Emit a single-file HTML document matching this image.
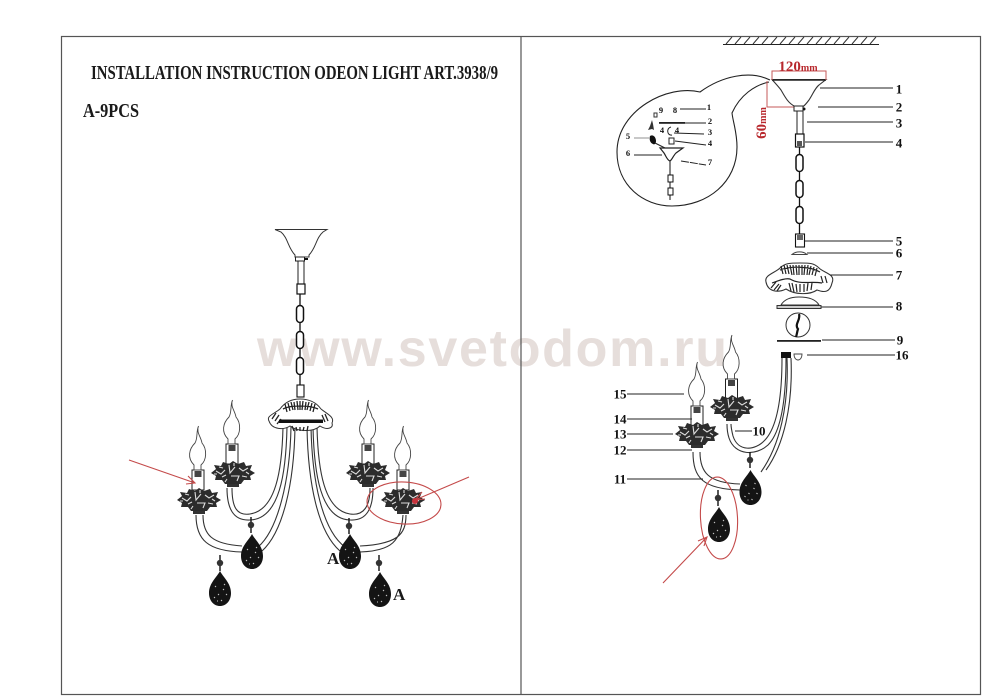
<!DOCTYPE html>
<html><head><meta charset="utf-8"><style>
html,body{margin:0;padding:0;background:#fff;width:991px;height:700px;overflow:hidden}
svg{display:block;filter:blur(.35px)}
.t{font-family:"Liberation Serif",serif;font-weight:bold;fill:#1a1a1a}
.n{font-family:"Liberation Serif",serif;font-weight:bold;fill:#111;font-size:13px;text-anchor:middle;dominant-baseline:central}
.s{font-family:"Liberation Serif",serif;font-weight:bold;fill:#111;font-size:8.5px;text-anchor:middle;dominant-baseline:central}
.l{stroke:#222;stroke-width:1;fill:none}
.a{stroke:#333;stroke-width:1.1;fill:none}
.r{stroke:#c44a4a;stroke-width:1.1;fill:none}
</style></head><body>
<svg width="991" height="700" viewBox="0 0 991 700" xmlns="http://www.w3.org/2000/svg">
<defs>
<g id="flower">
<path d="M-22,0 L-17,-4 L-19,-8 L-12,-7 L-10,-11 L-4,-9 L0,-12 L5,-9 L11,-11 L13,-7 L19,-8 L17,-3 L22,0 L17,3 L18,7 L11,7 L8,11 L-8,11 L-11,7 L-18,7 L-17,3 Z" fill="#2c2c2c"/>
<path d="M-17,-2 l5,3 l4,-4 M-11,4 l4,-2 M-4,-8 l1,8 l5,-6 M-2,3 l8,0 l-2,5 M6,-5 l4,3 l5,-3 M9,3 l5,1 M-14,-6 l4,1 M-6,6 l-2,3 M-19,1 l3,0 M13,-1 l3,2 M1,-10 l0,3" stroke="#ddd" stroke-width="1.1" fill="none"/>
<rect x="-6" y="11" width="12" height="3" fill="#333"/>
</g>
<g id="flame">
<path d="M0.5,-44 C-2,-38 3,-33 4,-27 C9,-21 9,-10 3,-5 L3,0 L-4,0 L-4,-5 C-11,-12 -9,-21 -3,-27 C0,-32 -2,-38 0.5,-44 Z" fill="#fff" stroke="#444" stroke-width="0.9"/>
</g>
<g id="socket">
<rect x="-6" y="0" width="12" height="20" fill="#fff" stroke="#222" stroke-width="1"/>
<rect x="-3.5" y="1" width="7" height="6" fill="#444"/>
</g>
<g id="drop">
<path d="M0,-17 C3,-11 11,-5 11,5 C11,13 6,18 0,18 C-6,18 -11,13 -11,5 C-11,-5 -3,-11 0,-17 Z" fill="#141414"/>
<path d="M-5,-2 l1,1 M4,-4 l1,1 M-2,6 l1,1 M6,6 l1,1 M-6,9 l1,1 M1,12 l1,1 M3,1 l1,1 M-3,13 l1,0" stroke="#ccc" stroke-width="1"/>
</g>
<g id="bead">
<path d="M0,-8 V-3 M0,3 V8" stroke="#111" stroke-width="1.4"/>
<circle cx="0" cy="0" r="3.2" fill="#333"/>
</g>
<g id="link"><rect x="-3.5" y="-8.5" width="7" height="17" rx="3.5" fill="#fff" stroke="#111" stroke-width="1.5"/></g>
</defs>

<rect width="991" height="700" fill="#fff"/>

<text x="257" y="366" font-family="'Liberation Sans',sans-serif" font-weight="bold" font-size="52" fill="#e6dedb" textLength="470" lengthAdjust="spacing">www.svetodom.ru</text>

<!-- frame -->
<rect x="61.5" y="36.5" width="919" height="658" fill="none" stroke="#555" stroke-width="1.2"/>
<line x1="521" y1="36" x2="521" y2="695" stroke="#555" stroke-width="1.2"/>

<!-- ceiling hatch -->
<line x1="723" y1="44.5" x2="879" y2="44.5" stroke="#222" stroke-width="1"/>
<path d="M726,44 l6,-7 M735,44 l6,-7 M744,44 l6,-7 M753,44 l6,-7 M762,44 l6,-7 M771,44 l6,-7 M780,44 l6,-7 M789,44 l6,-7 M798,44 l6,-7 M807,44 l6,-7 M816,44 l6,-7 M825,44 l6,-7 M834,44 l6,-7 M843,44 l6,-7 M852,44 l6,-7 M861,44 l6,-7 M870,44 l6,-7" stroke="#333" stroke-width="1"/>

<!-- title -->
<text class="t" x="91" y="79" font-size="20" textLength="407" lengthAdjust="spacingAndGlyphs">INSTALLATION INSTRUCTION ODEON LIGHT ART.3938/9</text>
<text class="t" x="83" y="117" font-size="20" textLength="56" lengthAdjust="spacingAndGlyphs">A-9PCS</text>

<!-- LEFT CHANDELIER -->
<path d="M275,229.5 H327 L323,232 C316,238 316,248 309,255 V257 H295 V255 C288,248 288,238 281,232 Z" fill="#fff" stroke="#333" stroke-width="1"/>
<rect x="295.5" y="257" width="9" height="4" fill="#fff" stroke="#222"/>
<rect x="304" y="258" width="4" height="2" fill="#111"/>
<rect x="298" y="261" width="6" height="24" fill="#fff" stroke="#222"/>
<rect x="297" y="284" width="8" height="10" fill="#fff" stroke="#111" stroke-width="1.2"/>
<line x1="300" y1="294" x2="300" y2="385" stroke="#111" stroke-width="1.3"/>
<use href="#link" x="300" y="314"/><use href="#link" x="300" y="340"/><use href="#link" x="300" y="366"/>
<rect x="297" y="385" width="7" height="12" fill="#fff" stroke="#111" stroke-width="1.1"/>

<!-- arms left chandelier -->
<path class="a" d="M283,427 C282,470 276,510 250,514 C236,516 232,506 232,488"/>
<path class="a" d="M287,427 C286,472 280,519 250,520 C233,521 227,508 227,488"/>
<path class="a" d="M291,427 C290,480 278,530 258,547 M295,427 C294,484 283,532 262,551"/>
<path class="a" d="M203,515 C203,535 212,544 242,546 M196,515 C196,540 208,551 242,552"/>
<path class="a" d="M311,427 C312,480 322,530 345,547 M307,427 C308,484 318,532 340,551"/>
<path class="a" d="M317,427 C318,470 324,510 350,514 C364,516 370,506 370,488"/>
<path class="a" d="M313,427 C314,472 320,519 350,520 C367,521 373,508 373,488"/>
<path class="a" d="M406,515 C406,535 397,544 360,546 M403,515 C401,541 392,551 360,552"/>

<!-- dome left -->
<path d="M269,421 C266,416 274,414 280,409 C285,402 292,399 300,399 C308,399 316,402 321,409 C327,414 335,417 332,423 C334,429 326,430 320,426 C314,432 298,432 290,426 C284,430 272,430 269,421 Z" fill="#fff" stroke="#333" stroke-width="1"/>
<path d="M283,409 C290,405 310,405 318,409 M285,404 l2,8 M288,403 l2,8 M291,402 l2,8 M294,402 l1,8 M297,401 l1,9 M300,401 v9 M303,401 l-1,9 M306,402 l-1,8 M309,402 l-2,8 M312,403 l-2,8 M315,404 l-2,8 M272,419 l4,-6 M275,421 l4,-6 M277,424 l4,-5 M325,414 l3,7 M322,415 l3,7 M292,426 l2,5 M296,427 l1,4 M300,427 v4 M304,427 l-1,4 M308,426 l-1,5" stroke="#222" stroke-width="1.3" fill="none"/>
<rect x="279" y="419.5" width="44" height="3.5" fill="#111"/>

<use href="#socket" x="198" y="470"/><use href="#socket" x="232" y="444"/><use href="#socket" x="368" y="444"/><use href="#socket" x="403" y="470"/>
<use href="#flame" x="198" y="470"/><use href="#flame" x="232" y="444"/><use href="#flame" x="368" y="444"/><use href="#flame" x="403" y="470"/>
<use href="#flower" x="199" y="500"/><use href="#flower" x="233" y="473"/><use href="#flower" x="368" y="473"/><use href="#flower" x="403" y="500"/>

<use href="#bead" x="251" y="525"/><use href="#bead" x="220" y="563"/><use href="#bead" x="349" y="526"/><use href="#bead" x="379" y="563"/>
<use href="#drop" x="252" y="551"/><use href="#drop" x="220" y="588"/><use href="#drop" x="350" y="551"/><use href="#drop" x="380" y="589"/>
<text class="t" x="327" y="564" font-size="17">A</text>
<text class="t" x="393" y="600" font-size="17">A</text>

<!-- red left -->
<path class="r" d="M129,460 L195,483 M188,476 L195,483 L186,484"/>
<path class="r" d="M469,477 L415,500 M422,492 L415,500 L425,499"/>
<ellipse class="r" cx="404" cy="503" rx="37" ry="21" transform="rotate(3 404 503)"/>
<circle cx="415" cy="501" r="3" fill="#c8323c"/>

<!-- RIGHT: magnifier outline -->
<path d="M770,80 C750,70 722,76 700,92 C668,84 617,110 617,152 C617,185 643,206 672,206 C708,206 737,182 737,147 C737,132 733,122 732,113 C740,95 755,85 769,82" fill="none" stroke="#222" stroke-width="1.1"/>

<!-- inset -->
<text class="s" x="661" y="110">9</text><text class="s" x="675" y="110">8</text><text class="s" x="709" y="107">1</text>
<line x1="680" y1="109" x2="706" y2="109" class="l"/>
<rect x="659" y="122" width="26" height="1.8" fill="#222"/>
<line x1="685" y1="123" x2="706" y2="123" class="l"/>
<text class="s" x="710" y="121">2</text>
<text class="s" x="662" y="130">4</text><text class="s" x="677" y="130">4</text>
<path d="M671,127 C666,128 667,136 672,135 M674,133 L704,134" class="l"/>
<text class="s" x="710" y="132">3</text>
<path d="M652,120 l-2,6 l-2,4 l4,-1 l2,1 l-1,-6 z" fill="#333"/>
<rect x="654" y="113" width="3" height="4" fill="none" stroke="#333"/>
<rect x="669" y="138" width="5" height="6" fill="#fff" stroke="#222"/>
<line x1="675" y1="141" x2="706" y2="145" class="l"/>
<text class="s" x="710" y="143">4</text>
<path d="M650,136 c3,-2 6,1 6,5 c0,3 -2,4 -3,3 c-3,-1 -4,-5 -3,-8 z" fill="#111"/>
<path d="M655,143 L665,148" class="l" stroke-width="1.4"/>
<text class="s" x="628" y="136">5</text><line x1="634" y1="138" x2="649" y2="138" stroke="#777" stroke-width="0.8"/>
<text class="s" x="628" y="153">6</text><line x1="634" y1="155" x2="662" y2="155" class="l"/>
<path d="M660,148 H683 L676,153 C673,156 672,160 670,161 C667,160 666,156 664,153 Z" fill="#fff" stroke="#222" stroke-width="1.2"/>
<line x1="670" y1="161" x2="670" y2="200" stroke="#222" stroke-width="1.1"/>
<path d="M681,161 L706,165" class="l" stroke-dasharray="8 1"/>
<text class="s" x="710" y="162">7</text>
<rect x="668" y="175" width="5" height="7" fill="#fff" stroke="#111"/>
<rect x="668" y="188" width="5" height="7" fill="#fff" stroke="#111"/>

<!-- right canopy & dims -->
<path d="M772,79.5 H826 L819,85 C815,88 813,94 809,100 C806,104 804,106 803,106.5 H795 C788,103 785,97 781,90 C778,86 775,83 772,79.5 Z" fill="#fff" stroke="#333" stroke-width="1.1"/>
<line x1="772" y1="80" x2="826" y2="80" stroke="#222" stroke-width="1.6"/>
<path d="M772,80 V71 H826 V80" stroke="#c65a5a" stroke-width="1" fill="none"/>
<text x="798" y="71" font-family="'Liberation Serif',serif" font-weight="bold" fill="#b8282d" text-anchor="middle" font-size="15">120<tspan font-size="10">mm</tspan></text>
<path d="M767,81 V107 H795" stroke="#c65a5a" stroke-width="1" fill="none"/>
<text transform="translate(766,123) rotate(-90)" font-family="'Liberation Serif',serif" font-weight="bold" fill="#b8282d" text-anchor="middle" font-size="15">60<tspan font-size="10">mm</tspan></text>

<rect x="794" y="106" width="9" height="5" fill="#fff" stroke="#222"/>
<circle cx="804" cy="109" r="1.5" fill="#111"/>
<rect x="797" y="111" width="6" height="24" fill="#fff" stroke="#222"/>
<rect x="795.5" y="134" width="8.5" height="13" fill="#fff" stroke="#111" stroke-width="1.2"/>
<rect x="797" y="141" width="5" height="5" fill="#555"/>
<line x1="799.5" y1="147" x2="799.5" y2="235" stroke="#111" stroke-width="1.3"/>
<use href="#link" x="799.5" y="163"/><use href="#link" x="799.5" y="189"/><use href="#link" x="799.5" y="215"/>
<rect x="795.5" y="234" width="9" height="13" fill="#fff" stroke="#111" stroke-width="1.1"/>
<rect x="797" y="235" width="6" height="5" fill="#666"/>
<path d="M792,254.5 C796,251 803,251 807,254.5 Z" fill="#fff" stroke="#444"/>

<!-- 7 dome -->
<path d="M766,282 C764,275 775,273 780,268 C785,263 790,263 800,263 C810,263 814,263 819,268 C824,273 836,274 832,283 C830,292 825,293 817,290 C810,295 795,295 786,289 C778,293 768,292 766,282 Z" fill="#fff" stroke="#333" stroke-width="1.1"/>
<path d="M780,270 C790,266 810,266 820,272 M781,266 l2,8 M784,265 l2,9 M787,265 l2,9 M790,265 l2,10 M793,265 l1,10 M796,265 l1,10 M799,265 v10 M802,265 v10 M805,265 l-1,10 M808,265 l-1,10 M811,266 l-2,9 M814,267 l-2,8 M817,268 l-2,8 M772,283 C780,280 786,278 790,279 C800,285 810,281 822,283 M789,283 l2,8 M792,283 l2,9 M796,284 l1,8 M800,284 v8 M804,284 v8 M808,283 l-1,8 M812,283 l-1,7 M771,288 l5,-6 M774,290 l5,-6 M777,291 l4,-6 M825,276 l2,7 M821,276 l2,7" stroke="#222" stroke-width="1.2" fill="none"/>

<!-- 8 -->
<path d="M781,305 C785,298 793,297 799,297 C806,297 815,298 819,305 Z" fill="#fff" stroke="#333" stroke-width="1"/>
<rect x="777" y="305.5" width="44" height="3" fill="#ccc" stroke="#333" stroke-width="1"/>
<!-- wire ball -->
<circle cx="798" cy="325" r="12" fill="#fff" stroke="#333" stroke-width="1"/>
<path d="M799,314 C801,320 794,324 798,329 C797,332 797,334 796,337" stroke="#111" stroke-width="2.2" fill="none"/>
<rect x="777" y="340" width="44" height="1.8" fill="#222"/>
<rect x="781" y="352" width="10" height="6" fill="#111"/>
<path d="M794,354 H802 C802,358 800,360 798,360 C796,360 794,358 794,354 Z" fill="#fff" stroke="#444" stroke-width="0.9"/>

<!-- right arms -->
<path class="a" d="M782,358 C782,390 779,425 765,440 C755,451 738,452 733,436 C732,432 731,428 731,424"/>
<path class="a" d="M786,358 C786,392 783,430 768,445 C756,456 735,456 729,438 C727,432 727,428 727,424"/>
<path class="a" d="M791,358 C793,405 784,445 766,470 M787,358 C789,405 780,445 761,472"/>
<path class="a" d="M700,452 C700,472 708,483 740,484 M693,452 C693,478 703,489 740,490"/>

<use href="#socket" x="697" y="406"/><use href="#socket" x="731.5" y="379"/>
<use href="#flame" x="697" y="406"/><use href="#flame" x="731.5" y="379"/>
<use href="#flower" x="732" y="407"/><use href="#flower" x="697" y="434"/>

<use href="#bead" x="750" y="460"/><use href="#bead" x="718" y="498"/>
<use href="#drop" x="750.5" y="487"/><use href="#drop" x="719" y="524"/>

<!-- red right -->
<ellipse class="r" cx="719" cy="518" rx="18.5" ry="41" transform="rotate(-3 719 518)"/>
<path class="r" d="M663,583 L707,537 M698,541 L707,537 L704,546"/>

<!-- leader lines right -->
<path class="l" d="M820,88 H893 M818,107 H893 M807,122 H893 M805,142 H893 M805,241 H893 M807,253 H893 M830,275 H893 M821,307 H893 M822,340 H895 M807,355 H895 M627,394 H684 M627,419 H692 M627,434 H673 M627,450 H692 M627,479 H703 M735,431 H752"/>
<text class="n" x="899" y="89">1</text>
<text class="n" x="899" y="107">2</text>
<text class="n" x="899" y="123">3</text>
<text class="n" x="899" y="143">4</text>
<text class="n" x="899" y="241">5</text>
<text class="n" x="899" y="253">6</text>
<text class="n" x="899" y="275">7</text>
<text class="n" x="899" y="306">8</text>
<text class="n" x="900" y="340">9</text>
<text class="n" x="902" y="355">16</text>
<text class="n" x="620" y="394">15</text>
<text class="n" x="620" y="419">14</text>
<text class="n" x="620" y="434">13</text>
<text class="n" x="620" y="450">12</text>
<text class="n" x="620" y="479">11</text>
<text class="n" x="759" y="431">10</text>
</svg>
</body></html>
